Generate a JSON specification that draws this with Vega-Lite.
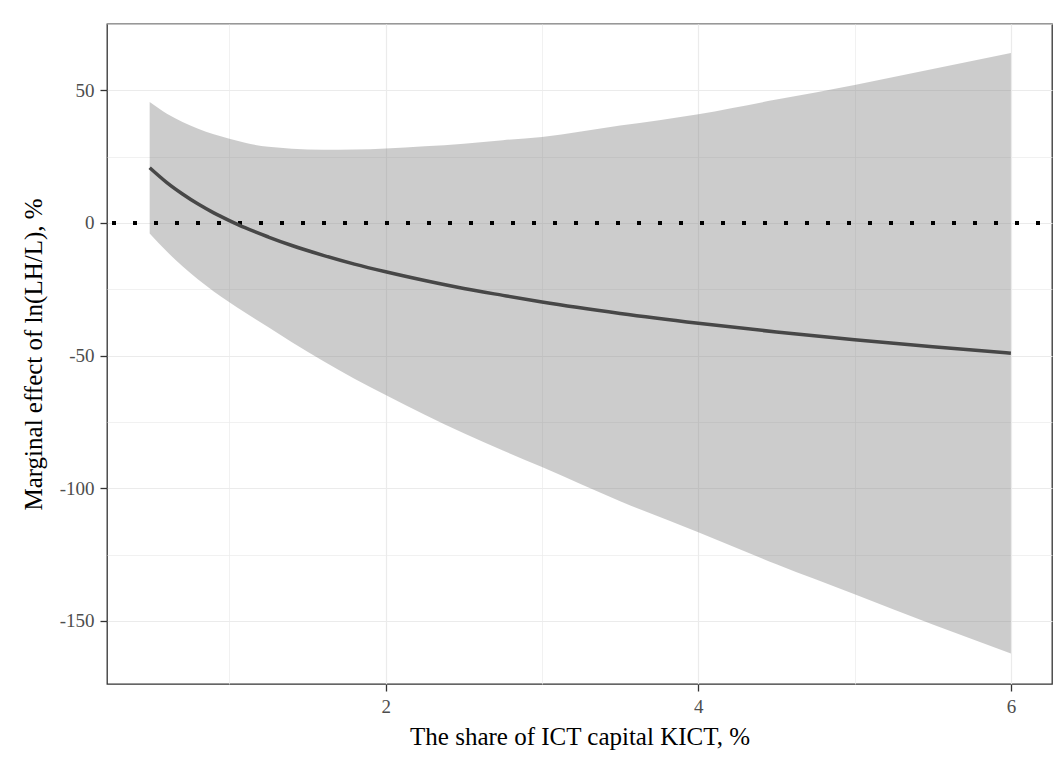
{
  "$schema": "https://vega.github.io/schema/vega-lite/v6.json",
  "width": 945,
  "height": 660,
  "autosize": {"type": "none"},
  "padding": {"left": 107, "top": 24, "right": 2, "bottom": 78},
  "background": "white",
  "config": {
    "font": "Liberation Serif",
    "view": {"stroke": "#333333", "strokeWidth": 1.3},
    "axis": {
      "labelFont": "Liberation Serif",
      "labelFontSize": 19,
      "labelColor": "#4d4d4d",
      "titleFont": "Liberation Serif",
      "titleFontSize": 25,
      "titleFontWeight": "normal",
      "titleColor": "#000000",
      "tickColor": "#333333",
      "tickSize": 7,
      "tickWidth": 1.3,
      "domain": false,
      "gridColor": "#ebebeb",
      "labelPadding": 6
    }
  },
  "data": {
    "values": [
      {"x": 0.49, "fit": 20.8, "lo": -4.0, "hi": 45.6},
      {"x": 0.6, "fit": 15.2, "lo": -10.8, "hi": 41.2},
      {"x": 0.7, "fit": 10.9, "lo": -16.3, "hi": 38.1},
      {"x": 0.8, "fit": 7.1, "lo": -21.3, "hi": 35.5},
      {"x": 0.9, "fit": 3.8, "lo": -25.8, "hi": 33.4},
      {"x": 1.0, "fit": 0.9, "lo": -29.9, "hi": 31.7},
      {"x": 1.1, "fit": -1.8, "lo": -33.8, "hi": 30.2},
      {"x": 1.25, "fit": -5.3, "lo": -39.3, "hi": 28.7},
      {"x": 1.4, "fit": -8.5, "lo": -45.0, "hi": 28.0},
      {"x": 1.6, "fit": -12.2, "lo": -52.0, "hi": 27.6},
      {"x": 1.8, "fit": -15.5, "lo": -58.7, "hi": 27.7},
      {"x": 2.0, "fit": -18.4, "lo": -64.9, "hi": 28.1},
      {"x": 2.25, "fit": -21.7, "lo": -72.3, "hi": 28.9},
      {"x": 2.5, "fit": -24.7, "lo": -79.3, "hi": 29.9},
      {"x": 2.75, "fit": -27.3, "lo": -85.8, "hi": 31.2},
      {"x": 3.0, "fit": -29.8, "lo": -92.0, "hi": 32.4},
      {"x": 3.5, "fit": -34.1, "lo": -104.9, "hi": 36.7},
      {"x": 4.0, "fit": -37.8, "lo": -116.6, "hi": 41.0},
      {"x": 4.5, "fit": -41.1, "lo": -128.7, "hi": 46.5},
      {"x": 5.0, "fit": -44.0, "lo": -140.0, "hi": 52.0},
      {"x": 5.5, "fit": -46.7, "lo": -151.4, "hi": 58.0},
      {"x": 6.0, "fit": -49.1, "lo": -162.3, "hi": 64.1}
    ]
  },
  "layer": [
    {
      "mark": {"type": "area", "fill": "#808080", "opacity": 0.4, "interpolate": "monotone"},
      "encoding": {
        "x": {
          "field": "x", "type": "quantitative",
          "scale": {"domain": [0.217, 6.263], "nice": false, "zero": false},
          "axis": {
            "title": "The share of ICT capital KICT, %",
            "values": [1, 2, 3, 4, 5, 6],
            "labelExpr": "datum.value % 2 === 0 ? '' + datum.value : ''",
            "tickOpacity": {"condition": {"test": "datum.value % 2 === 0", "value": 1}, "value": 0},
            "gridWidth": {"condition": {"test": "datum.value % 2 === 0", "value": 1.2}, "value": 0.7},
            "titlePadding": 8
          }
        },
        "y": {
          "field": "lo", "type": "quantitative",
          "scale": {"domain": [-173.8, 75], "nice": false, "zero": false},
          "axis": {
            "title": "Marginal effect of ln(LH/L), %",
            "values": [-150, -125, -100, -75, -50, -25, 0, 25, 50, 75],
            "labelExpr": "datum.value % 50 === 0 ? '' + datum.value : ''",
            "tickOpacity": {"condition": {"test": "datum.value % 50 === 0", "value": 1}, "value": 0},
            "gridWidth": {"condition": {"test": "datum.value % 50 === 0", "value": 1.2}, "value": 0.7},
            "titlePadding": 13
          }
        },
        "y2": {"field": "hi"}
      }
    },
    {
      "mark": {"type": "rule", "color": "#000000", "strokeWidth": 4, "strokeDash": [4, 17], "strokeDashOffset": 9, "strokeCap": "butt"},
      "encoding": {"y": {"datum": 0}}
    },
    {
      "mark": {"type": "line", "color": "#474747", "strokeWidth": 3.5, "interpolate": "monotone"},
      "encoding": {
        "x": {"field": "x", "type": "quantitative"},
        "y": {"field": "fit", "type": "quantitative"}
      }
    }
  ]
}
